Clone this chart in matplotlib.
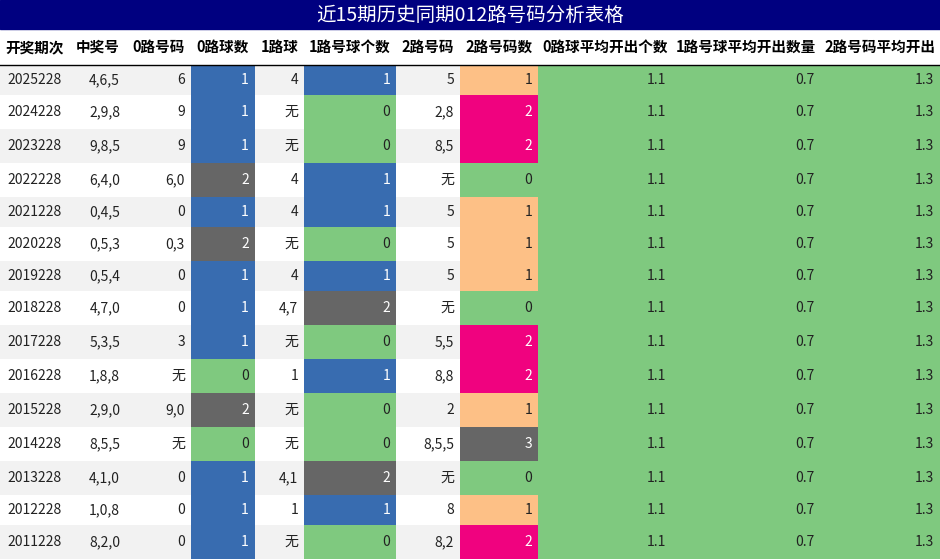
import matplotlib.pyplot as plt
from matplotlib.patches import Rectangle

plt.rcParams['font.family'] = ['Noto Sans CJK SC', 'DejaVu Sans']

title = '近15期历史同期012路号码分析表格'
headers = ['开奖期次', '中奖号', '0路号码', '0路球数', '1路球', '1路号球个数',
           '2路号码', '2路号码数', '0路球平均开出个数', '1路号球平均开出数量', '2路号码平均开出']
periods = ['2025228', '2024228', '2023228', '2022228', '2021228', '2020228', '2019228', '2018228',
           '2017228', '2016228', '2015228', '2014228', '2013228', '2012228', '2011228']
numbers = ['4,6,5', '2,9,8', '9,8,5', '6,4,0', '0,4,5', '0,5,3', '0,5,4', '4,7,0',
           '5,3,5', '1,8,8', '2,9,0', '8,5,5', '4,1,0', '1,0,8', '8,2,0']
road0 = ['6', '9', '9', '6,0', '0', '0,3', '0', '0', '3', '无', '9,0', '无', '0', '0', '0']
road0_n = [1, 1, 1, 2, 1, 2, 1, 1, 1, 0, 2, 0, 1, 1, 1]
road1 = ['4', '无', '无', '4', '4', '无', '4', '4,7', '无', '1', '无', '无', '4,1', '1', '无']
road1_n = [1, 0, 0, 1, 1, 0, 1, 2, 0, 1, 0, 0, 2, 1, 0]
road2 = ['5', '2,8', '8,5', '无', '5', '5', '5', '无', '5,5', '8,8', '2', '8,5,5', '无', '8', '8,2']
road2_n = [1, 2, 2, 0, 1, 1, 1, 0, 2, 2, 1, 3, 0, 1, 2]
avg0 = [1.1] * 15
avg1 = [0.7] * 15
avg2 = [1.3] * 15

col_edges = [0, 70, 126, 191, 255, 304, 396, 460, 538, 672, 820, 940]
GREEN, BLUE, GRAY, PINK, PEACH = '#7fc97f', '#386cb0', '#666666', '#f0027f', '#fdc086'
cnt_col = {0: GREEN, 1: BLUE, 2: GRAY}
cnt2_col = {0: GREEN, 1: PEACH, 2: PINK, 3: GRAY}

fig = plt.figure(figsize=(9.4, 5.6), dpi=100)
ax = fig.add_axes([0, 0, 1, 1])
ax.set_xlim(0, 940)
ax.set_ylim(560, 0)
ax.axis('off')

# title bar
ax.add_patch(Rectangle((0, 0), 940, 29, color='#000080'))
ax.text(470, 15, title, color='white', fontsize=14, ha='center', va='center')

# header
for j, h in enumerate(headers):
    ax.text((col_edges[j] + col_edges[j + 1]) / 2, 47, h, fontsize=10.5, fontweight='bold',
            ha='center', va='center')
ax.plot([0, 940], [64.5, 64.5], color='black', lw=1)

y = 65
for i in range(15):
    row = [periods[i], numbers[i], road0[i], str(road0_n[i]), road1[i], str(road1_n[i]),
           road2[i], str(road2_n[i]), str(avg0[i]), str(avg1[i]), str(avg2[i])]
    h = 34 if '无' in row else 30
    bg = '#f2f2f2' if i % 2 == 0 else 'white'
    ax.add_patch(Rectangle((0, y), 940, h, color=bg, lw=0))
    fills = {3: cnt_col[road0_n[i]], 5: cnt_col[road1_n[i]], 7: cnt2_col[road2_n[i]],
             8: GREEN, 9: GREEN, 10: GREEN}
    for j, txt in enumerate(row):
        x0, x1 = col_edges[j], col_edges[j + 1]
        fc = fills.get(j)
        tc = '#222222'
        if fc is not None:
            ax.add_patch(Rectangle((x0, y), x1 - x0, h, color=fc, lw=0))
            if fc in (BLUE, GRAY, PINK):
                tc = 'white'
        if j == 0:
            ax.text((x0 + x1) / 2, y + h / 2, txt, fontsize=10, ha='center', va='center', color=tc)
        else:
            ax.text(x1 - 6, y + h / 2, txt, fontsize=10, ha='right', va='center', color=tc)
    y += h

fig.savefig('out.png', dpi=100)
